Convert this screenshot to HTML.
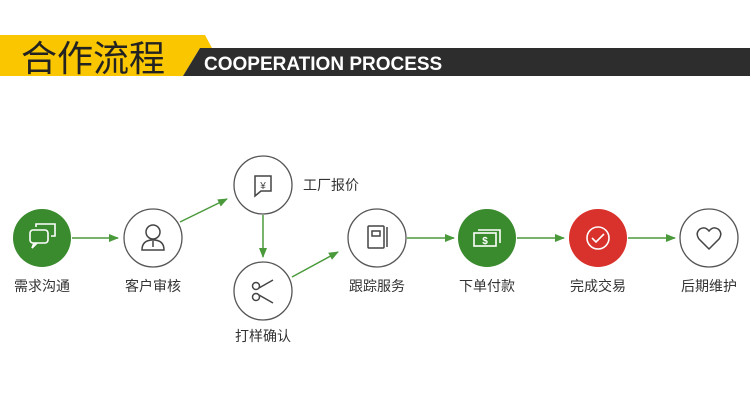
<!DOCTYPE html>
<html><head><meta charset="utf-8"><style>
html,body{margin:0;padding:0;background:#fff;width:750px;height:400px;overflow:hidden}
text{font-family:"Liberation Sans","Noto Sans CJK SC",sans-serif}
</style></head><body>
<svg width="750" height="400" viewBox="0 0 750 400" xmlns="http://www.w3.org/2000/svg">
<defs><marker id="a" markerWidth="10" markerHeight="8" refX="9" refY="4" orient="auto" markerUnits="userSpaceOnUse"><path d="M0,0L10,4L0,8z" fill="#4a9a3c"/></marker></defs>
<polygon points="0,35 205,35 212,48 200,48 183,76 0,76" fill="#f9c600"/>
<polygon points="200,48 750,48 750,76 183,76" fill="#2d2d2d"/>
<text x="21" y="71" font-size="36" fill="#222" font-family="'Noto Sans CJK SC',sans-serif">合作流程</text>
<text x="204" y="70" font-size="19" font-weight="bold" fill="#fff">COOPERATION PROCESS</text>
<g stroke="#4a9a3c" stroke-width="1.5" marker-end="url(#a)" fill="none">
<line x1="72" y1="238" x2="118" y2="238"/>
<line x1="180" y1="222" x2="227" y2="199"/>
<line x1="263" y1="215" x2="263" y2="257"/>
<line x1="292" y1="277" x2="338" y2="252"/>
<line x1="407" y1="238" x2="454" y2="238"/>
<line x1="517" y1="238" x2="564" y2="238"/>
<line x1="628" y1="238" x2="675" y2="238"/>
</g>
<g stroke="#555" stroke-width="1.3" fill="#fff">
<circle cx="42" cy="238" r="29" fill="#3a8a2e" stroke="none"/>
<circle cx="153" cy="238" r="29"/>
<circle cx="263" cy="185" r="29"/>
<circle cx="263" cy="291" r="29"/>
<circle cx="377" cy="238" r="29"/>
<circle cx="487" cy="238" r="29" fill="#3a8a2e" stroke="none"/>
<circle cx="598" cy="238" r="29" fill="#d9312b" stroke="none"/>
<circle cx="709" cy="238" r="29"/>
</g>
<g fill="none" stroke="#fff" stroke-width="1.6">
<rect x="30" y="230" width="18" height="13" rx="3"/><path d="M36 227v-3h19v12h-4"/><path d="M34 243l-2 5 5-5"/>
<rect x="474" y="233" width="22" height="13"/><path d="M478 230h22v13"/>
<circle cx="598" cy="238" r="11"/><path d="M592 238l4 4 8-8"/>
</g>
<text x="485" y="244" font-size="10" fill="#fff" text-anchor="middle" font-weight="bold">$</text>
<g fill="none" stroke="#444" stroke-width="1.5">
<circle cx="153" cy="232" r="7"/><path d="M142 250q0-10 11-10q11 0 11 10z"/><path d="M153 241v6"/>
<path d="M255 176h16v15h-10l-6 5z"/><text x="263" y="189" font-size="10" fill="#444" stroke="none" text-anchor="middle">¥</text>
<circle cx="256" cy="286" r="3.5"/><circle cx="256" cy="297" r="3.5"/><path d="M259 288l14-8M259 295l14 8"/>
<rect x="368" y="226" width="16" height="22" rx="1"/><rect x="372" y="231" width="8" height="5"/><path d="M387 227v20"/>
<path d="M709 249l-10-10q-4-6 1-10q5-3 9 2q4-5 9-2q5 4 1 10z"/>
</g>
<g font-size="14" fill="#333" text-anchor="middle" font-family="'Noto Sans CJK SC',sans-serif">
<text x="42" y="291">需求沟通</text>
<text x="153" y="291">客户审核</text>
<text x="331" y="190">工厂报价</text>
<text x="263" y="341">打样确认</text>
<text x="377" y="291">跟踪服务</text>
<text x="487" y="291">下单付款</text>
<text x="598" y="291">完成交易</text>
<text x="709" y="291">后期维护</text>
</g>
</svg>
</body></html>
